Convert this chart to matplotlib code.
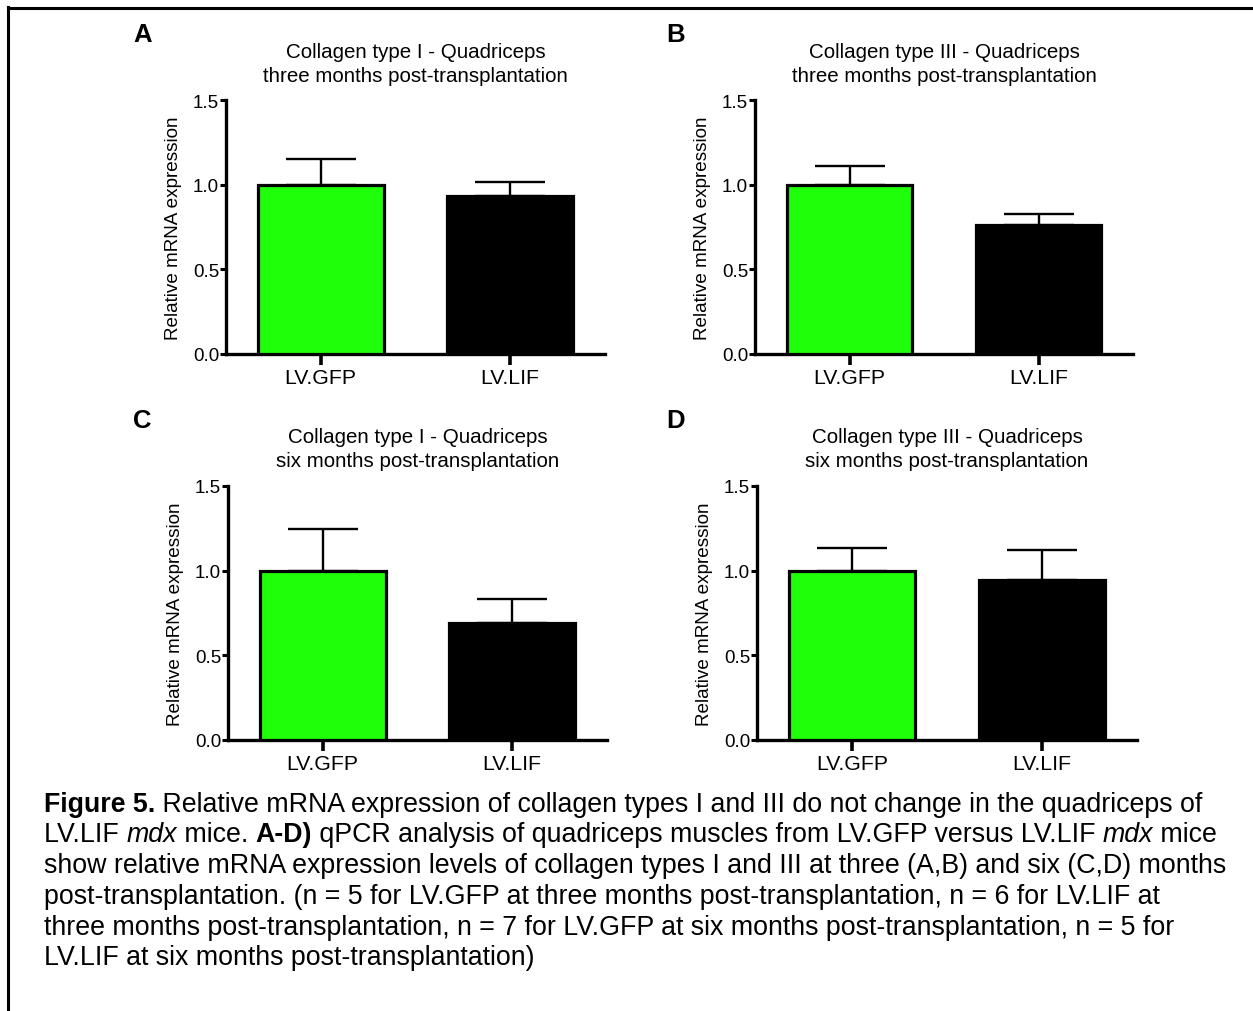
import matplotlib
matplotlib.use("Agg")
import matplotlib.pyplot as plt
from matplotlib.lines import Line2D

plt.rcParams['font.family'] = ['Liberation Sans', 'DejaVu Sans']

# ---- data ----
groups = ["LV.GFP", "LV.LIF"]
titles = [
    "Collagen type I - Quadriceps\nthree months post-transplantation",
    "Collagen type III - Quadriceps\nthree months post-transplantation",
    "Collagen type I - Quadriceps\nsix months post-transplantation",
    "Collagen type III - Quadriceps\nsix months post-transplantation",
]
panel_letters = ["A", "B", "C", "D"]
means_A = [1.0, 0.935]
sem_A = [0.150, 0.081]
means_B = [1.0, 0.760]
sem_B = [0.113, 0.069]
means_C = [1.0, 0.688]
sem_C = [0.246, 0.142]
means_D = [1.0, 0.944]
sem_D = [0.133, 0.176]
yticks = [0.0, 0.5, 1.0, 1.5]
ylabel = "Relative mRNA expression"
bar_colors = ["#20ff0a", "#000000"]

caption_lines = [
    [("Figure 5.", "bold"), (" Relative mRNA expression of collagen types I and III do not change in the quadriceps of", "normal")],
    [("LV.LIF ", "normal"), ("mdx", "italic"), (" mice. ", "normal"), ("A-D)", "bold"),
     (" qPCR analysis of quadriceps muscles from LV.GFP versus LV.LIF ", "normal"), ("mdx", "italic"), (" mice", "normal")],
    [("show relative mRNA expression levels of collagen types I and III at three (A,B) and six (C,D) months", "normal")],
    [("post-transplantation. (n = 5 for LV.GFP at three months post-transplantation, n = 6 for LV.LIF at", "normal")],
    [("three months post-transplantation, n = 7 for LV.GFP at six months post-transplantation, n = 5 for", "normal")],
    [("LV.LIF at six months post-transplantation)", "normal")],
]

W, H = 1253, 1012
fig = plt.figure(figsize=(W / 100, H / 100), dpi=100)

def fx(px):
    return px / W

def fy(py):
    return 1 - py / H

# outer border (left and top visible)
fig.add_artist(Line2D([fx(8), fx(8)], [fy(8), fy(1015)], color="black", lw=2.2, transform=fig.transFigure))
fig.add_artist(Line2D([fx(8), fx(1260)], [fy(8.5), fy(8.5)], color="black", lw=2.2, transform=fig.transFigure))

# axes boxes: (left_px, right_px, top_px, bottom_px)
boxes = [(226, 605, 101, 355), (755, 1133, 101, 355), (228, 607, 487, 741), (757, 1137, 487, 741)]
title_y = [64.5, 64.5, 449.5, 449.5]
letter_pos = [(143, 35), (676, 35), (142, 421), (676, 421)]
all_means = [means_A, means_B, means_C, means_D]
all_sems = [sem_A, sem_B, sem_C, sem_D]

for i, (l, r, t, b) in enumerate(boxes):
    ax = fig.add_axes([fx(l), fy(b), fx(r - l), (b - t) / H])
    x = [0, 1]
    ax.bar(x, all_means[i], width=0.665, color=bar_colors, edgecolor="black", linewidth=2.3, zorder=3)
    ax.errorbar(x, all_means[i], yerr=[[0, 0], all_sems[i]], fmt="none", ecolor="black",
                elinewidth=1.7, capsize=25, capthick=1.7, zorder=2)
    ax.set_xlim(-0.5, 1.5)
    ax.set_ylim(0, 1.5)
    ax.set_yticks(yticks)
    ax.set_yticklabels([f"{v:.1f}" for v in yticks], fontsize=13.5)
    ax.set_xticks(x)
    ax.set_xticklabels(groups, fontsize=15.3)
    for s in ["top", "right"]:
        ax.spines[s].set_visible(False)
    for s in ["left", "bottom"]:
        ax.spines[s].set_linewidth(2.4)
    ax.tick_params(axis="y", direction="out", length=4, width=2.2, pad=1)
    ax.tick_params(axis="x", direction="out", length=8, width=2.6, pad=2)
    ax.set_ylabel(ylabel, fontsize=13.6, labelpad=8)
    cx = (l + r) / 2
    fig.text(fx(cx), fy(title_y[i]), titles[i], ha="center", va="center", fontsize=14.8,
             linespacing=1.3)
    lx, ly = letter_pos[i]
    fig.text(fx(lx), fy(ly), panel_letters[i], ha="center", va="center", fontsize=18.5,
             fontweight="bold")

# caption with mixed styles
fig.canvas.draw()
renderer = fig.canvas.get_renderer()
line_y = [805, 835, 866, 897, 928, 958]
cap_size = 19.3
for yy, runs in zip(line_y, caption_lines):
    xpos = 44
    for txt, style in runs:
        kw = dict(fontsize=cap_size, ha="left", va="center")
        if style == "bold":
            kw["fontweight"] = "bold"
        elif style == "italic":
            kw["fontstyle"] = "italic"
        t = fig.text(fx(xpos), fy(yy), txt, **kw)
        bb = t.get_window_extent(renderer=renderer)
        xpos += bb.width

fig.savefig("out.png", dpi=100)
